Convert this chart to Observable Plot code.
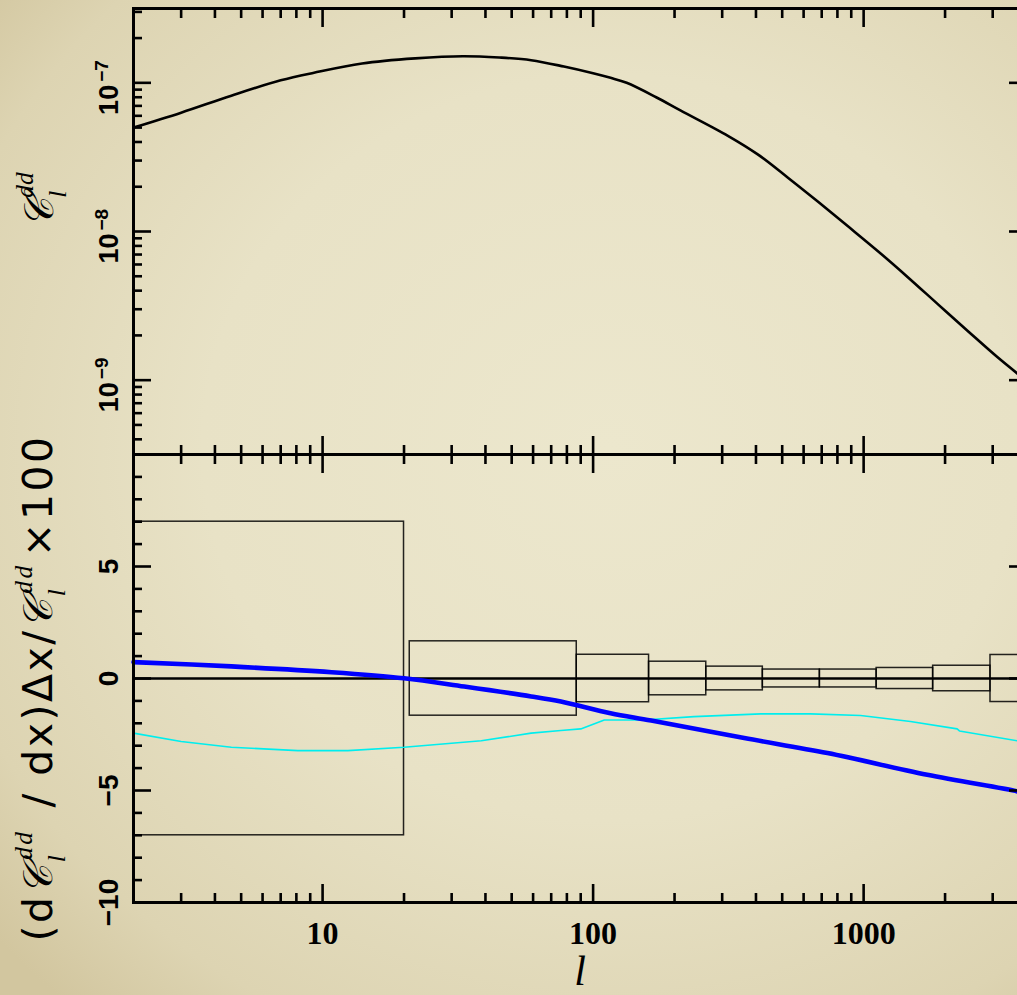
<!DOCTYPE html>
<html>
<head>
<meta charset="utf-8">
<script src="https://cdn.jsdelivr.net/npm/d3@7"></script>
<script src="https://cdn.jsdelivr.net/npm/@observablehq/plot@0.6"></script>
<style>
html, body { margin: 0; padding: 0; width: 1017px; height: 995px; overflow: hidden; }
body { background: radial-gradient(ellipse 80% 75% at 60% 45%, #ece7cd 0%, #e8e2c6 50%, #ddd4b2 85%, #d2c69f 100%); color: black; }
#wrap { position: relative; width: 1017px; height: 995px; }
#top, #bot { position: absolute; left: 0; width: 1030px; }
#top { top: 0; }
#bot { top: 454px; }
svg { overflow: visible; display: block; max-width: none !important; }
</style>
</head>
<body>
<div id="wrap"><div id="top"></div><div id="bot"></div></div>
<script>
// ---------- data ----------
// top panel: C_l^dd vs l
const lTop = [2, 3, 4.6, 7, 9.3, 14, 22, 33, 45, 59, 78, 100, 116, 133, 171, 211, 315, 406, 525, 677, 873, 1127, 1453, 1875, 2420, 3120, 4000];
const cTop = [5.0e-8, 6.3e-8, 8.2e-8, 1.04e-7, 1.17e-7, 1.35e-7, 1.46e-7, 1.51e-7, 1.48e-7, 1.42e-7, 1.287e-7, 1.16e-7, 1.08e-7, 1.0e-7, 8.0e-8, 6.5e-8, 4.4e-8, 3.3e-8, 2.30e-8, 1.59e-8, 1.088e-8, 7.40e-9, 4.95e-9, 3.26e-9, 2.15e-9, 1.43e-9, 9.9e-10];

// bottom panel: error boxes (bins in l, half-height)
const binLo  = [2, 21, 87, 161, 262, 424, 689, 1117, 1807, 2944];
const binHi  = [20, 87, 161, 262, 424, 689, 1117, 1807, 2944, 4000];
const binErr = [7.0, 1.66, 1.06, 0.75, 0.53, 0.40, 0.40, 0.47, 0.57, 1.05];

// blue thick curve
const lBlue = [2, 4.6, 10.8, 20, 33.4, 59, 76, 116, 164, 362, 735, 1718, 3700, 4000];
const vBlue = [0.73, 0.54, 0.28, 0.01, -0.36, -0.80, -1.03, -1.55, -1.875, -2.66, -3.33, -4.30, -5.04, -5.15];

// cyan thin curve
const lCyan = [2, 3, 4.6, 8.1, 12.4, 20, 38.6, 59, 76, 90, 110, 154, 236, 417, 637, 975, 1490, 2217, 2260, 3700, 4000];
const vCyan = [-2.44, -2.81, -3.07, -3.22, -3.22, -3.07, -2.78, -2.44, -2.32, -2.25, -1.85, -1.85, -1.70, -1.58, -1.58, -1.65, -1.92, -2.25, -2.34, -2.78, -2.85];

// ticks
const xMajor = [10, 100, 1000];
const xMajorLabels = ["10", "100", "1000"];
const xMinor = [3, 4, 5, 6, 7, 8, 9, 20, 30, 40, 50, 60, 70, 80, 90, 200, 300, 400, 500, 600, 700, 800, 900, 2000, 3000];
const yTopMajor = [1e-9, 1e-8, 1e-7];
const yTopMantissa = ["10", "10", "10"];
const yTopExponent = ["\u22129", "\u22128", "\u22127"];
const yTopMinor = [4e-10, 5e-10, 6e-10, 7e-10, 8e-10, 9e-10,
  2e-9, 3e-9, 4e-9, 5e-9, 6e-9, 7e-9, 8e-9, 9e-9,
  2e-8, 3e-8, 4e-8, 5e-8, 6e-8, 7e-8, 8e-8, 9e-8,
  2e-7, 3e-7];
const yBotMajor = [-10, -5, 0, 5, 10];
const yBotLabelVals = [-10, -5, 0, 5];
const yBotLabels = ["\u221210", "\u22125", "0", "5"];
const yBotMinor = [-9, -8, -7, -6, -4, -3, -2, -1, 1, 2, 3, 4, 6, 7, 8, 9];

// ---------- layout ----------
const W = 1030, ML = 133, MR = 4;
const SANS = "Liberation Sans, DejaVu Sans, sans-serif";
const SERIF = "Liberation Serif, DejaVu Serif, serif";
const TW = 2.6;
const MAJ = 18, MIN = 9;

function xTicks(anchor) {
  const s = anchor === "bottom" ? -1 : 1;
  return [
    Plot.axisX({ticks: xMajor, anchor, tickSize: MAJ, dy: s * MAJ, tickFormat: () => "", strokeWidth: TW, label: null}),
    Plot.axisX({ticks: xMinor, anchor, tickSize: MIN, dy: s * MIN, tickFormat: () => "", strokeWidth: TW, label: null})
  ];
}
function yTicks(major, minor) {
  return [
    Plot.axisY({ticks: major, anchor: "left", tickSize: MAJ, dx: MAJ, tickFormat: () => "", strokeWidth: TW, label: null}),
    Plot.axisY({ticks: minor, anchor: "left", tickSize: MIN, dx: MIN, tickFormat: () => "", strokeWidth: TW, label: null}),
    Plot.axisY({ticks: major, anchor: "right", tickSize: MAJ, dx: -MAJ, tickFormat: () => "", strokeWidth: TW, label: null}),
    Plot.axisY({ticks: minor, anchor: "right", tickSize: MIN, dx: -MIN, tickFormat: () => "", strokeWidth: TW, label: null})
  ];
}

const topData = lTop.map((l, i) => ({l, c: cTop[i]}));
const boxData = binLo.map((lo, i) => ({lo, hi: binHi[i], e: binErr[i]}));
const blueData = lBlue.map((l, i) => ({l, v: vBlue[i]}));
const cyanData = lCyan.map((l, i) => ({l, v: vCyan[i]}));

const svgStyle = {background: "transparent", overflow: "visible", maxWidth: "none"};

const topPlot = Plot.plot({
  width: W, height: 454,
  marginTop: 8, marginBottom: 0, marginLeft: ML, marginRight: MR,
  style: svgStyle,
  x: {type: "log", domain: [2, 4000], axis: null},
  y: {type: "log", domain: [Math.pow(10, -9.5), Math.pow(10, -6.5)], axis: null},
  marks: [
    Plot.line(topData, {x: "l", y: "c", stroke: "black", strokeWidth: 2.6, curve: "catmull-rom"}),
    ...xTicks("top"), ...xTicks("bottom"),
    ...yTicks(yTopMajor, yTopMinor),
    Plot.frame({stroke: "black", strokeWidth: 3}),
    Plot.text(yTopMajor, {y: d => d, text: (d, i) => yTopMantissa[i], frameAnchor: "left", dx: -16, dy: 2, rotate: -90,
      textAnchor: "end", lineAnchor: "bottom", fontSize: 27, fontWeight: "bold", fontFamily: SANS}),
    Plot.text(yTopMajor, {y: d => d, text: (d, i) => yTopExponent[i], frameAnchor: "left", dx: -26, dy: -1, rotate: -90,
      textAnchor: "start", lineAnchor: "bottom", fontSize: 19, fontWeight: "bold", fontFamily: SANS})
  ]
});

const botPlot = Plot.plot({
  width: W, height: 541,
  marginTop: 0, marginBottom: 93, marginLeft: ML, marginRight: MR,
  style: svgStyle,
  x: {type: "log", domain: [2, 4000], axis: null},
  y: {domain: [-10, 10], axis: null},
  marks: [
    Plot.rect(boxData, {x1: "lo", x2: "hi", y1: d => -d.e, y2: d => d.e, fill: "none", stroke: "black", strokeWidth: 1.5, strokeOpacity: 0.85}),
    Plot.ruleY([0], {stroke: "black", strokeWidth: 2.6}),
    Plot.line(cyanData, {x: "l", y: "v", stroke: "#00eeee", strokeWidth: 1.6}),
    Plot.line(blueData, {x: "l", y: "v", stroke: "#0000ff", strokeWidth: 4.6, curve: "catmull-rom"}),
    ...xTicks("top"), ...xTicks("bottom"),
    ...yTicks(yBotMajor, yBotMinor),
    Plot.frame({stroke: "black", strokeWidth: 3}),
    Plot.text(yBotLabelVals, {y: d => d, text: (d, i) => yBotLabels[i], frameAnchor: "left", dx: -16, rotate: -90,
      textAnchor: "middle", lineAnchor: "bottom", fontSize: 28, fontWeight: "bold", fontFamily: SANS}),
    Plot.text(xMajor, {x: d => d, text: (d, i) => xMajorLabels[i], frameAnchor: "bottom", dy: 19,
      lineAnchor: "top", fontSize: 32, fontWeight: "bold", fontFamily: SERIF}),
    Plot.text(["l"], {frameAnchor: "bottom", dy: 82, lineAnchor: "bottom", fontSize: 42,
      fontStyle: "italic", fontFamily: SERIF, text: d => d})
  ]
});

document.getElementById("top").appendChild(topPlot);
document.getElementById("bot").appendChild(botPlot);

// ---------- rotated rich-text axis titles ----------
const TFONT = "DejaVu Sans, Liberation Sans, sans-serif";
function addTitle(svg, parts, x, y, fs, targetLen) {
  const t = d3.select(svg).append("text")
    .attr("transform", `translate(${x},${y}) rotate(-90)`)
    .attr("text-anchor", "middle")
    .attr("font-family", TFONT)
    .attr("font-size", fs)
    .attr("fill", "black");
  const sfs = fs * 0.62;
  for (const p of parts) {
    if (p.k === "n") {
      t.append("tspan").text(p.t);
    } else if (p.k === "C") {
      t.append("tspan").attr("font-family", "DejaVu Serif, Noto Sans, serif").attr("font-style", "italic").text("\uD835\uDC9E");
      // subscript l
      t.append("tspan").attr("font-size", sfs).attr("font-family", SERIF).attr("font-style", "italic")
        .attr("dy", fs * 0.32).text("l");
      // superscript dd stacked above
      t.append("tspan").attr("font-size", sfs).attr("font-family", SERIF).attr("font-style", "italic")
        .attr("dx", -sfs * 0.28).attr("dy", -fs * 0.8).text("dd");
      t.append("tspan").attr("dy", fs * 0.48).text("\u200A");
    }
  }
  if (targetLen) {
    const n = t.text().length;
    const len = t.node().getBBox().width;
    t.attr("letter-spacing", Math.max(0, (targetLen - len) / n));
  }
  return t;
}

addTitle(botPlot, [{k: "n", t: "(d"}, {k: "C"}, {k: "n", t: " / dx)\u0394x/"}, {k: "C"}, {k: "n", t: "\u00D7100"}],
  52, 234, 41, 512);
addTitle(topPlot, [{k: "C"}], 53, 198, 41, null);
</script>
</body>
</html>
